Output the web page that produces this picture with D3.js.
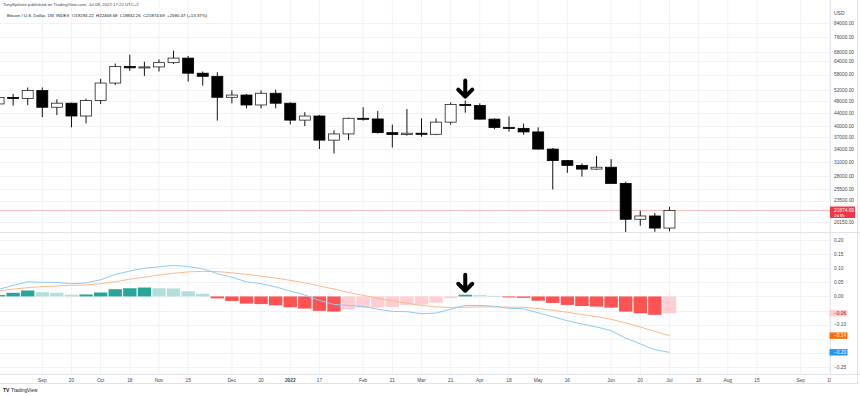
<!DOCTYPE html>
<html><head><meta charset="utf-8">
<script src="https://cdn.jsdelivr.net/npm/d3@7"></script>
<style>html,body{margin:0;padding:0;background:#fff;}svg{display:block;font-family:"Liberation Sans",Arial,sans-serif;}</style>
</head><body><svg id="c" width="860" height="396"></svg>
<script>
// ---- data ----
const weeks = ["2021-08-16","2021-08-23","2021-08-30","2021-09-06","2021-09-13","2021-09-20","2021-09-27","2021-10-04","2021-10-11","2021-10-18","2021-10-25","2021-11-01","2021-11-08","2021-11-15","2021-11-22","2021-11-29","2021-12-06","2021-12-13","2021-12-20","2021-12-27","2022-01-03","2022-01-10","2022-01-17","2022-01-24","2022-01-31","2022-02-07","2022-02-14","2022-02-21","2022-02-28","2022-03-07","2022-03-14","2022-03-21","2022-03-28","2022-04-04","2022-04-11","2022-04-18","2022-04-25","2022-05-02","2022-05-09","2022-05-16","2022-05-23","2022-05-30","2022-06-06","2022-06-13","2022-06-20","2022-06-27","2022-07-04"];
const open  = [47000,49250,48850,51750,45900,47250,43100,48150,54600,61500,60900,61300,63200,65300,58600,57300,49300,50100,46650,50750,47250,41850,43100,36250,37900,42400,42200,38250,37750,38100,37800,41250,46850,46450,42150,39700,39450,38450,34000,31300,30250,29450,29850,26580,20550,21040,19294.22];
const high  = [49500,50500,52900,52900,48600,47400,48800,56300,62800,66900,63600,64700,68900,66300,59300,59000,51800,50500,51800,52050,47550,44300,43450,38900,42600,45850,44700,40500,45300,42400,42350,47500,48150,47200,42400,42950,40800,39750,34250,31350,30650,32350,31650,26900,21850,21500,22468.68];
const low   = [44400,46400,46600,42700,43400,39750,40900,47000,53850,59600,57500,59300,62600,55200,53600,41700,47200,45550,45550,45550,40600,40100,34000,32950,36250,41700,38000,34400,37450,37150,37600,40500,44150,42000,39200,38550,37700,33850,25450,28650,27900,29300,26500,17600,19620,18780,18832.26];
const close = [49250,48850,51750,45900,47250,43100,48150,54600,61500,60900,61300,63200,65300,58600,57300,49300,50100,46650,50750,47250,41850,43100,36250,37900,42400,42200,38250,37750,38100,37800,41250,46850,46450,42150,39700,39450,38450,34000,31300,30250,29450,29850,26580,20550,21040,19294.22,21874.69];
const macdLine   = [0.025,0.039,0.052,0.050,0.050,0.045,0.048,0.059,0.078,0.090,0.100,0.105,0.110,0.106,0.098,0.081,0.068,0.052,0.045,0.034,0.019,0.005,-0.014,-0.028,-0.032,-0.036,-0.045,-0.053,-0.054,-0.061,-0.059,-0.045,-0.032,-0.032,-0.035,-0.042,-0.044,-0.058,-0.072,-0.086,-0.098,-0.108,-0.121,-0.148,-0.168,-0.189,-0.198];
const signalLine = [0.020,0.026,0.031,0.035,0.037,0.039,0.041,0.045,0.052,0.061,0.068,0.076,0.082,0.087,0.089,0.088,0.084,0.078,0.072,0.065,0.057,0.048,0.037,0.026,0.014,0.004,-0.006,-0.016,-0.024,-0.032,-0.037,-0.039,-0.038,-0.037,-0.037,-0.038,-0.039,-0.043,-0.049,-0.056,-0.064,-0.072,-0.081,-0.094,-0.108,-0.124,-0.139];
const histogram  = [0.005,0.0128,0.021,0.015,0.0128,0.006,0.007,0.014,0.0256,0.029,0.0315,0.029,0.0285,0.0186,0.0093,-0.007,-0.016,-0.0256,-0.027,-0.0315,-0.0385,-0.043,-0.051,-0.0536,-0.0455,-0.0396,-0.039,-0.037,-0.030,-0.029,-0.022,-0.006,0.006,0.0047,0.002,-0.0035,-0.005,-0.015,-0.023,-0.030,-0.034,-0.036,-0.0396,-0.0536,-0.0595,-0.065,-0.0595];
const priceTicks = [84000,76000,68000,64000,58000,52000,48000,44000,40000,37000,34000,31000,28000,25500,23500,20150];
const macdTicks = [0.20,0.15,0.10,0.05,0.00,-0.05,-0.10,-0.15,-0.20,-0.25];
const timeTickDates  = ["2021-09-06","2021-09-20","2021-10-04","2021-10-18","2021-11-01","2021-11-15","2021-12-06","2021-12-20","2022-01-03","2022-01-17","2022-02-07","2022-02-21","2022-03-07","2022-03-21","2022-04-04","2022-04-18","2022-05-02","2022-05-16","2022-06-06","2022-06-20","2022-07-04","2022-07-18","2022-08-01","2022-08-15","2022-09-05","2022-09-19"];
const timeTickLabels = ["Sep","20","Oct","18","Nov","15","Dec","20","2022","17","Feb","21","Mar","21","Apr","18","May","16","Jun","20","Jul","18","Aug","15","Sep","19"];
const arrowWeek = "2022-03-28";
const headerLine1 = "TonySpilotro published on TradingView.com, Jul 08, 2022 17:22 UTC+2";
const headerLine2 = "Bitcoin / U.S. Dollar, 1W, INDEX  O19294.22  H22468.68  L18832.26  C21874.69  +2580.47 (+13.37%)";

// ---- layout ----
const plotR = 830, paneSplit = 232, axisTop = 374;
const svg = d3.select("#c");
const parse = d3.utcParse("%Y-%m-%d");
const dates = weeks.map(parse);
const x = d3.scaleUtc().domain([parse("2021-09-06"), parse("2022-09-05")]).range([42.3, 800.7]);
const step = x(parse("2021-09-13")) - x(parse("2021-09-06"));
const yP = d3.scaleLog().domain([20150, 84000]).range([222, 23]);
const yM = d3.scaleLinear().domain([-0.25, 0.20]).range([367, 240]);
const gridC = "#f1f2f4", borderC = "#e0e3eb", textC = "#434651";

svg.append("rect").attr("width",860).attr("height",396).attr("fill","#fff");
const defs = svg.append("defs");
defs.append("clipPath").attr("id","cp").append("rect").attr("x",0).attr("y",0).attr("width",plotR).attr("height",paneSplit);
defs.append("clipPath").attr("id","cm").append("rect").attr("x",0).attr("y",paneSplit).attr("width",plotR).attr("height",axisTop-paneSplit);
defs.append("clipPath").attr("id","ct").append("rect").attr("x",0).attr("y",axisTop).attr("width",plotR+1).attr("height",20);

// grid
const g = svg.append("g");
g.selectAll(".vg").data(timeTickDates).join("line")
  .attr("x1",d=>x(parse(d))).attr("x2",d=>x(parse(d))).attr("y1",0).attr("y2",axisTop)
  .attr("stroke",gridC).attr("stroke-width",1);
g.selectAll(".hg").data(priceTicks).join("line")
  .attr("x1",0).attr("x2",plotR).attr("y1",d=>Math.round(yP(d))+0.5).attr("y2",d=>Math.round(yP(d))+0.5)
  .attr("stroke",gridC);
g.selectAll(".mg").data(macdTicks).join("line")
  .attr("x1",0).attr("x2",plotR).attr("y1",d=>Math.round(yM(d))+0.5).attr("y2",d=>Math.round(yM(d))+0.5)
  .attr("stroke",gridC);

// borders
svg.append("line").attr("x1",0).attr("x2",860).attr("y1",paneSplit+0.5).attr("y2",paneSplit+0.5).attr("stroke",borderC);
svg.append("line").attr("x1",0).attr("x2",860).attr("y1",axisTop+0.5).attr("y2",axisTop+0.5).attr("stroke",borderC);
svg.append("line").attr("x1",plotR+0.5).attr("x2",plotR+0.5).attr("y1",0).attr("y2",axisTop).attr("stroke",borderC);
svg.append("line").attr("x1",857.5).attr("x2",857.5).attr("y1",0).attr("y2",axisTop+9).attr("stroke",borderC);
svg.append("line").attr("x1",0).attr("x2",858).attr("y1",axisTop+9.5).attr("y2",axisTop+9.5).attr("stroke",borderC);

// header
svg.append("text").attr("x",3).attr("y",6).attr("font-size",4.3).attr("fill",textC).text(headerLine1);
svg.append("text").attr("x",7).attr("y",16.5).attr("font-size",4.4).attr("fill","#131722").attr("xml:space","preserve").text(headerLine2);

// price pane
const pp = svg.append("g").attr("clip-path","url(#cp)");
pp.append("line").attr("x1",0).attr("x2",plotR).attr("y1",yP(close[close.length-1])).attr("y2",yP(close[close.length-1]))
  .attr("stroke","#f7a9ae").attr("stroke-width",0.8);
const bw = 11;
const candles = pp.selectAll(".cd").data(dates.map((d,i)=>({d,o:open[i],h:high[i],l:low[i],c:close[i]}))).join("g");
candles.append("line").attr("x1",d=>x(d.d)).attr("x2",d=>x(d.d)).attr("y1",d=>yP(d.h)).attr("y2",d=>yP(d.l)).attr("stroke","#111").attr("stroke-width",1);
candles.append("rect")
  .attr("x",d=>x(d.d)-bw/2).attr("width",bw)
  .attr("y",d=>Math.min(yP(d.o),yP(d.c)))
  .attr("height",d=>Math.max(1,Math.abs(yP(d.o)-yP(d.c))))
  .attr("fill",d=>d.c>=d.o?"#fff":"#000")
  .attr("stroke",d=>d.c>=d.o?"#222":"#000").attr("stroke-width",0.8);

// arrows
function arrow(sel, cx, tip){
  sel.append("path").attr("d",`M${cx},${tip-18}V${tip-2}M${cx-7},${tip-9}L${cx},${tip-2}L${cx+7},${tip-9}`)
    .attr("fill","none").attr("stroke","#000").attr("stroke-width",4).attr("stroke-linecap","round").attr("stroke-linejoin","round");
}
const ai = weeks.indexOf(arrowWeek);
arrow(svg, x(dates[ai]), yP(high[ai]) - 2);

// MACD pane
const mp = svg.append("g").attr("clip-path","url(#cm)");
const histColor = (v,i)=>{
  const prev = i>0?histogram[i-1]:v-1e-6;
  if (v>=0) return prev < v ? "#26a69a" : "#b2dfdb";
  return prev < v ? "#ffcdd2" : "#ff5252";
};
mp.selectAll(".hb").data(histogram).join("rect")
  .attr("x",(v,i)=>x(dates[i])-step/2+0.6).attr("width",step-1.2)
  .attr("y",v=>Math.min(yM(v),yM(0))).attr("height",v=>Math.max(0.8,Math.abs(yM(v)-yM(0))))
  .attr("fill",(v,i)=>histColor(v,i));
const ln = vals => d3.line().x((v,i)=>x(dates[i])).y(v=>yM(v))(vals);
mp.append("path").attr("d",ln(signalLine)).attr("fill","none").attr("stroke","#fbb98c").attr("stroke-width",1);
mp.append("path").attr("d",ln(macdLine)).attr("fill","none").attr("stroke","#8ccbf6").attr("stroke-width",1);
arrow(svg, x(dates[ai]), yM(Math.max(0,histogram[ai])) - 2);

// right axis labels
const fmtP = d3.format(".2f"), fmtM = d3.format(".2f");
const L = histogram.length-1;
const badges = [[histogram[L], "#ffcdd2", "#7a2020"],[signalLine[L], "#ff6d00", "#fff"],[macdLine[L], "#2196f3", "#fff"]];
svg.append("text").attr("x",834).attr("y",15).attr("font-size",5).attr("fill",textC).text("USD");
svg.selectAll(".pt").data(priceTicks.filter(d=>Math.abs(yP(d)-yP(close[L]))>7)).join("text").attr("x",834).attr("y",d=>yP(d)+1.8)
  .attr("font-size",4.8).attr("fill",textC).text(d=>fmtP(d));
svg.selectAll(".mt").data(macdTicks.filter(t=>badges.every(b=>Math.abs(yM(t)-yM(b[0]))>5.5))).join("text").attr("x",834).attr("y",d=>yM(d)+1.8)
  .attr("font-size",4.8).attr("fill",textC).text(d=>fmtM(d));

// value badges
const lastC = close[L], ly = yP(lastC);
svg.append("rect").attr("x",830).attr("y",ly-4).attr("width",25).attr("height",11.5).attr("fill","#f23645").attr("rx",0.5);
svg.append("text").attr("x",834).attr("y",ly+1.8).attr("font-size",4.8).attr("fill","#fff").text(fmtP(lastC));
svg.append("text").attr("x",834).attr("y",ly+6.3).attr("font-size",4.3).attr("fill","#fff").text("2d 8h");
badges.forEach(([v, fill, tc])=>{
  const yy = yM(v);
  svg.append("rect").attr("x",829.5).attr("y",yy-3.2).attr("width",18).attr("height",6.4).attr("fill",fill);
  svg.append("text").attr("x",834).attr("y",yy+1.8).attr("font-size",4.8).attr("fill",tc).text(fmtM(v));
});

// time axis
const tg = svg.append("g").attr("clip-path","url(#ct)");
tg.selectAll(".tt").data(timeTickDates).join("text")
  .attr("x",d=>x(parse(d))).attr("y",381.5).attr("text-anchor","middle")
  .attr("font-size",4.8).attr("fill",textC)
  .attr("font-weight",(d,i)=>timeTickLabels[i]==="2022"?"bold":"normal")
  .text((d,i)=>timeTickLabels[i]);

// logo
svg.append("text").attr("x",3).attr("y",391.5).attr("font-size",5).attr("font-weight","bold").attr("fill","#131722").text("TV");
svg.append("text").attr("x",11).attr("y",391.5).attr("font-size",4.8).attr("fill","#131722").text("TradingView");
</script></body></html>
